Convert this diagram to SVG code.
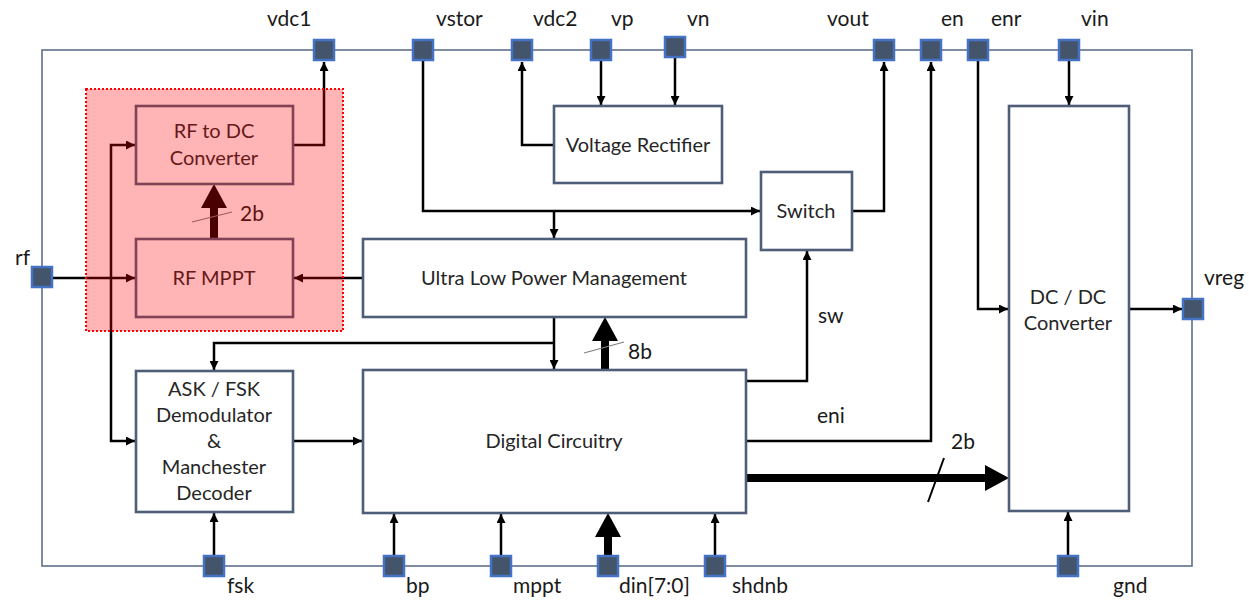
<svg xmlns="http://www.w3.org/2000/svg" width="1249" height="600" viewBox="0 0 1249 600">
<style>
.frame{fill:none;stroke:#5F6F8A;stroke-width:1.6}
.box{fill:#fff;stroke:#4E5D78;stroke-width:2.6}
.pin{fill:#44546A;stroke:#4472C4;stroke-width:2.5}
.lbl{font-family:Lato,"Open Sans",sans-serif;font-size:21px;fill:#1a1a1a}
.txt{font-family:Lato,"Open Sans",sans-serif;font-size:20px;fill:#262626;text-anchor:middle}
.w{fill:none;stroke:#000;stroke-width:2.5}
.bus{fill:none;stroke:#000;stroke-width:8}
.slash{fill:none;stroke:#7f7f7f;stroke-width:1.2}
</style>
<defs>
<marker id="a" markerUnits="userSpaceOnUse" markerWidth="9" markerHeight="9" refX="9" refY="4.5" orient="auto"><path d="M0,0 L9,4.5 L0,9 z" fill="#000"/></marker>
<marker id="as" markerUnits="userSpaceOnUse" markerWidth="9" markerHeight="9" refX="0" refY="4.5" orient="auto"><path d="M9,0 L0,4.5 L9,9 z" fill="#000"/></marker>
<marker id="b" markerUnits="userSpaceOnUse" markerWidth="24" markerHeight="26" refX="0" refY="13" orient="auto"><path d="M0,0 L24,13 L0,26 z" fill="#000"/></marker>
</defs>
<rect width="1249" height="600" fill="#fff"/>
<rect class="frame" x="42" y="50" width="1150" height="516"/>

<g id="connectors">
<path class="w" d="M293,145 H324 V62" marker-end="url(#a)"/>
<path class="w" d="M423,61 V211 H760" marker-end="url(#a)"/>
<path class="w" d="M554,211 V238" marker-end="url(#a)"/>
<path class="w" d="M554,145 H522 V62" marker-end="url(#a)"/>
<path class="w" d="M601,61 V105" marker-end="url(#a)"/>
<path class="w" d="M675,58 V105" marker-end="url(#a)"/>
<path class="w" d="M852,211 H884 V62" marker-end="url(#a)"/>
<path class="w" d="M746,441 H931 V62" marker-end="url(#a)"/>
<path class="w" d="M978,61 V309 H1008" marker-end="url(#a)"/>
<path class="w" d="M1069,61 V105" marker-end="url(#a)"/>
<path class="w" d="M1129,309 H1182" marker-end="url(#a)"/>
<path class="w" d="M746,381 H807 V251" marker-end="url(#a)"/>
<path class="w" d="M53,278 H135" marker-end="url(#a)"/>
<path class="w" d="M363,278 H294" marker-end="url(#a)"/>
<path class="w" d="M135,145 H111 V441 H135" marker-start="url(#as)" marker-end="url(#a)"/>
<path class="w" d="M554,317 V369" marker-end="url(#a)"/>
<path class="w" d="M554,343 H214 V370" marker-end="url(#a)"/>
<path class="w" d="M293,441 H362" marker-end="url(#a)"/>
<path class="w" d="M214,555 V513" marker-end="url(#a)"/>
<path class="w" d="M394,555 V514" marker-end="url(#a)"/>
<path class="w" d="M501,555 V514" marker-end="url(#a)"/>
<path class="w" d="M715,555 V514" marker-end="url(#a)"/>
<path class="w" d="M1068,555 V512" marker-end="url(#a)"/>
<path class="bus" d="M214,239 V208" marker-end="url(#b)"/>
<path class="bus" d="M605,370 V341" marker-end="url(#b)"/>
<path class="bus" d="M608,556 V537" marker-end="url(#b)"/>
<path class="bus" d="M746,478 H985" marker-end="url(#b)"/>
<line class="slash" x1="192" y1="222" x2="232" y2="212"/>
<line class="slash" x1="584" y1="353" x2="624" y2="342"/>
<line x1="928" y1="502" x2="944" y2="458" stroke="#000" stroke-width="2"/>
<text class="lbl" x="240" y="221">2b</text>
<text class="lbl" x="628" y="359">8b</text>
<text class="lbl" x="951" y="449">2b</text>
<text class="lbl" x="818" y="323">sw</text>
<text class="lbl" x="817" y="423">eni</text>
</g>

<g id="rf-dc"><rect class="box" x="136" y="106" width="157" height="78"/><text class="txt" x="214" y="138">RF to DC</text><text class="txt" x="214" y="165">Converter</text></g>
<g id="rf-mppt"><rect class="box" x="136" y="239" width="157" height="78"/><text class="txt" x="214" y="285">RF MPPT</text></g>
<g id="rectifier"><rect class="box" x="554" y="106" width="168" height="77"/><text class="txt" x="638" y="152">Voltage Rectifier</text></g>
<g id="switch"><rect class="box" x="761" y="172" width="91" height="78"/><text class="txt" x="806" y="218">Switch</text></g>
<g id="ulpm"><rect class="box" x="363" y="239" width="383" height="78"/><text class="txt" x="554" y="285">Ultra Low Power Management</text></g>
<g id="digital"><rect class="box" x="363" y="370" width="383" height="143"/><text class="txt" x="554" y="448">Digital Circuitry</text></g>
<g id="demod"><rect class="box" x="136" y="371" width="157" height="141"/><text class="txt" x="214" y="396">ASK / FSK</text><text class="txt" x="214" y="422">Demodulator</text><text class="txt" x="214" y="448">&amp;</text><text class="txt" x="214" y="474">Manchester</text><text class="txt" x="214" y="500">Decoder</text></g>
<g id="dcdc"><rect class="box" x="1009" y="106" width="120" height="405"/><text class="txt" x="1068" y="304">DC / DC</text><text class="txt" x="1068" y="330">Converter</text></g>

<g id="rf-block"><rect x="86" y="89" width="257" height="242" fill="#FF0000" fill-opacity="0.29" stroke="#FF0000" stroke-width="2" stroke-dasharray="2,2"/></g>

<g id="pin-vdc1"><rect class="pin" x="314" y="40" width="20" height="20"/><text class="lbl" x="267" y="26">vdc1</text></g>
<g id="pin-vstor"><rect class="pin" x="413" y="40" width="20" height="20"/><text class="lbl" x="436" y="26">vstor</text></g>
<g id="pin-vdc2"><rect class="pin" x="512" y="40" width="20" height="20"/><text class="lbl" x="533" y="26">vdc2</text></g>
<g id="pin-vp"><rect class="pin" x="591" y="40" width="20" height="20"/><text class="lbl" x="611" y="26">vp</text></g>
<g id="pin-vn"><rect class="pin" x="665" y="37" width="20" height="20"/><text class="lbl" x="687" y="26">vn</text></g>
<g id="pin-vout"><rect class="pin" x="874" y="40" width="20" height="20"/><text class="lbl" x="827" y="26">vout</text></g>
<g id="pin-en"><rect class="pin" x="921" y="40" width="20" height="20"/><text class="lbl" x="941" y="26">en</text></g>
<g id="pin-enr"><rect class="pin" x="968" y="40" width="20" height="20"/><text class="lbl" x="991" y="26">enr</text></g>
<g id="pin-vin"><rect class="pin" x="1059" y="40" width="20" height="20"/><text class="lbl" x="1081" y="26">vin</text></g>
<g id="pin-rf"><rect class="pin" x="32" y="267" width="20" height="20"/><text class="lbl" x="15" y="265">rf</text></g>
<g id="pin-vreg"><rect class="pin" x="1183" y="299" width="20" height="20"/><text class="lbl" x="1204" y="285">vreg</text></g>
<g id="pin-fsk"><rect class="pin" x="204" y="556" width="20" height="20"/><text class="lbl" x="227" y="593">fsk</text></g>
<g id="pin-bp"><rect class="pin" x="384" y="556" width="20" height="20"/><text class="lbl" x="406" y="593">bp</text></g>
<g id="pin-mppt"><rect class="pin" x="491" y="556" width="20" height="20"/><text class="lbl" x="513" y="593">mppt</text></g>
<g id="pin-din"><rect class="pin" x="598" y="556" width="20" height="20"/><text class="lbl" x="619" y="593">din[7:0]</text></g>
<g id="pin-shdnb"><rect class="pin" x="705" y="556" width="20" height="20"/><text class="lbl" x="732" y="593">shdnb</text></g>
<g id="pin-gnd"><rect class="pin" x="1058" y="556" width="20" height="20"/><text class="lbl" x="1113" y="593">gnd</text></g>
</svg>
